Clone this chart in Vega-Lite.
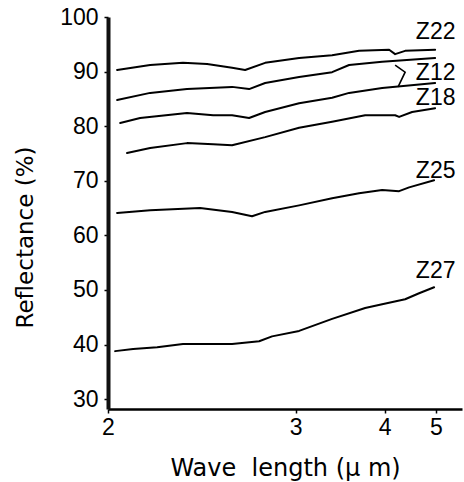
{
  "$schema": "https://vega.github.io/schema/vega-lite/v6.json",
  "width": 354,
  "height": 392,
  "autosize": {"type": "none"},
  "padding": {"left": 108, "top": 17, "right": 2, "bottom": 73},
  "background": "white",
  "config": {
    "view": {"stroke": null},
    "font": "Liberation Sans",
    "axis": {
      "domain": true, "domainColor": "black", "domainWidth": 2.5, "tickColor": "black", "tickWidth": 1.5,
      "labelColor": "black", "titleColor": "black", "grid": false,
      "labelFont": "Liberation Sans", "titleFont": "DejaVu Sans",
      "labelFontWeight": "normal", "titleFontWeight": "normal"
    }
  },
  "datasets": {
    "curves": [
      {"s": "Z22", "w": 2.032, "r": 90.3}, {"s": "Z22", "w": 2.158, "r": 91.2}, {"s": "Z22", "w": 2.301, "r": 91.6},
      {"s": "Z22", "w": 2.42, "r": 91.4}, {"s": "Z22", "w": 2.558, "r": 90.7}, {"s": "Z22", "w": 2.637, "r": 90.3},
      {"s": "Z22", "w": 2.769, "r": 91.6}, {"s": "Z22", "w": 3.029, "r": 92.5}, {"s": "Z22", "w": 3.338, "r": 93.0},
      {"s": "Z22", "w": 3.646, "r": 93.8}, {"s": "Z22", "w": 4.071, "r": 94.0}, {"s": "Z22", "w": 4.169, "r": 93.2},
      {"s": "Z22", "w": 4.344, "r": 93.8}, {"s": "Z22", "w": 4.98, "r": 94.0},
      {"s": "Z12a", "w": 2.032, "r": 84.8}, {"s": "Z12a", "w": 2.158, "r": 86.1}, {"s": "Z12a", "w": 2.32, "r": 86.8},
      {"s": "Z12a", "w": 2.558, "r": 87.2}, {"s": "Z12a", "w": 2.662, "r": 86.8}, {"s": "Z12a", "w": 2.769, "r": 87.9},
      {"s": "Z12a", "w": 3.029, "r": 89.0}, {"s": "Z12a", "w": 3.338, "r": 89.9}, {"s": "Z12a", "w": 3.525, "r": 91.2},
      {"s": "Z12a", "w": 3.963, "r": 91.8}, {"s": "Z12a", "w": 4.98, "r": 92.5},
      {"s": "Z12b", "w": 2.043, "r": 80.6}, {"s": "Z12b", "w": 2.118, "r": 81.5}, {"s": "Z12b", "w": 2.32, "r": 82.4},
      {"s": "Z12b", "w": 2.452, "r": 82.0}, {"s": "Z12b", "w": 2.558, "r": 82.0}, {"s": "Z12b", "w": 2.662, "r": 81.5},
      {"s": "Z12b", "w": 2.769, "r": 82.6}, {"s": "Z12b", "w": 3.029, "r": 84.2}, {"s": "Z12b", "w": 3.338, "r": 85.2},
      {"s": "Z12b", "w": 3.525, "r": 86.1}, {"s": "Z12b", "w": 3.963, "r": 87.0}, {"s": "Z12b", "w": 4.98, "r": 87.9},
      {"s": "Z18", "w": 2.068, "r": 75.1}, {"s": "Z18", "w": 2.158, "r": 76.0}, {"s": "Z18", "w": 2.32, "r": 76.9},
      {"s": "Z18", "w": 2.452, "r": 76.7}, {"s": "Z18", "w": 2.558, "r": 76.5}, {"s": "Z18", "w": 2.769, "r": 78.0},
      {"s": "Z18", "w": 3.029, "r": 79.7}, {"s": "Z18", "w": 3.338, "r": 80.8}, {"s": "Z18", "w": 3.724, "r": 82.0},
      {"s": "Z18", "w": 4.169, "r": 82.0}, {"s": "Z18", "w": 4.237, "r": 81.7}, {"s": "Z18", "w": 4.476, "r": 82.6},
      {"s": "Z18", "w": 4.98, "r": 83.3},
      {"s": "Z25", "w": 2.032, "r": 64.1}, {"s": "Z25", "w": 2.158, "r": 64.6}, {"s": "Z25", "w": 2.384, "r": 65.0},
      {"s": "Z25", "w": 2.558, "r": 64.3}, {"s": "Z25", "w": 2.681, "r": 63.5}, {"s": "Z25", "w": 2.769, "r": 64.3},
      {"s": "Z25", "w": 3.029, "r": 65.5}, {"s": "Z25", "w": 3.338, "r": 66.8}, {"s": "Z25", "w": 3.646, "r": 67.7},
      {"s": "Z25", "w": 3.963, "r": 68.3}, {"s": "Z25", "w": 4.237, "r": 68.1}, {"s": "Z25", "w": 4.418, "r": 68.8},
      {"s": "Z25", "w": 4.955, "r": 70.1},
      {"s": "Z27", "w": 2.025, "r": 38.8}, {"s": "Z27", "w": 2.091, "r": 39.2}, {"s": "Z27", "w": 2.187, "r": 39.5},
      {"s": "Z27", "w": 2.301, "r": 40.1}, {"s": "Z27", "w": 2.558, "r": 40.1}, {"s": "Z27", "w": 2.728, "r": 40.6},
      {"s": "Z27", "w": 2.818, "r": 41.5}, {"s": "Z27", "w": 3.029, "r": 42.5}, {"s": "Z27", "w": 3.338, "r": 44.7},
      {"s": "Z27", "w": 3.724, "r": 46.7}, {"s": "Z27", "w": 3.963, "r": 47.4}, {"s": "Z27", "w": 4.344, "r": 48.3},
      {"s": "Z27", "w": 4.617, "r": 49.4}, {"s": "Z27", "w": 4.955, "r": 50.5}
    ],
    "labels": [
      {"t": "Z22", "w": 4.55, "r": 97.3},
      {"t": "Z12", "w": 4.55, "r": 89.7},
      {"t": "Z18", "w": 4.55, "r": 85.2},
      {"t": "Z25", "w": 4.55, "r": 71.8},
      {"t": "Z27", "w": 4.55, "r": 53.5}
    ],
    "bracket": [
      {"o": 1, "w": 4.169, "r": 91.2},
      {"o": 2, "w": 4.344, "r": 89.9},
      {"o": 3, "w": 4.219, "r": 87.2}
    ]
  },
  "layer": [
    {
      "data": {"name": "curves"},
      "mark": {"type": "line", "color": "black", "strokeWidth": 2, "strokeCap": "round", "strokeJoin": "round"},
      "encoding": {
        "x": {
          "field": "w", "type": "quantitative",
          "scale": {"type": "pow", "exponent": -1.15, "domain": [2, 5.75], "nice": false, "zero": false},
          "axis": {"values": [2, 3, 4, 5], "format": "d", "title": "Wave\u00a0\u00a0length\u00a0(μ\u00a0m)", "labelFontSize": 23, "titleFontSize": 24,
                   "tickSize": 4, "labelPadding": 3, "titlePadding": 17, "labelFlush": false, "domain": true}
        },
        "y": {
          "field": "r", "type": "quantitative",
          "scale": {"domain": [28.2, 100], "nice": false, "zero": false},
          "axis": {"values": [30, 40, 50, 60, 70, 80, 90, 100], "title": "Reflectance (%)", "labelFontSize": 23, "titleFontSize": 23,
                   "tickSize": 4, "labelPadding": 6, "titlePadding": 22, "titleY": 220, "titleAlign": "center", "labelFlush": false,
                   "domain": true, "domainColor": "#111111", "domainWidth": 4}
        },
        "detail": {"field": "s"},
        "order": {"field": "w"}
      }
    },
    {
      "mark": {"type": "rule", "color": "black", "strokeWidth": 2.2},
      "encoding": {"y": {"datum": 100, "type": "quantitative"}}
    },
    {
      "data": {"name": "bracket"},
      "mark": {"type": "line", "color": "black", "strokeWidth": 1.6},
      "encoding": {
        "x": {"field": "w", "type": "quantitative"},
        "y": {"field": "r", "type": "quantitative"},
        "order": {"field": "o"}
      }
    },
    {
      "data": {"name": "labels"},
      "mark": {"type": "text", "align": "left", "baseline": "middle", "fontSize": 23, "color": "black", "font": "Liberation Sans"},
      "encoding": {
        "x": {"field": "w", "type": "quantitative"},
        "y": {"field": "r", "type": "quantitative"},
        "text": {"field": "t"}
      }
    }
  ]
}
